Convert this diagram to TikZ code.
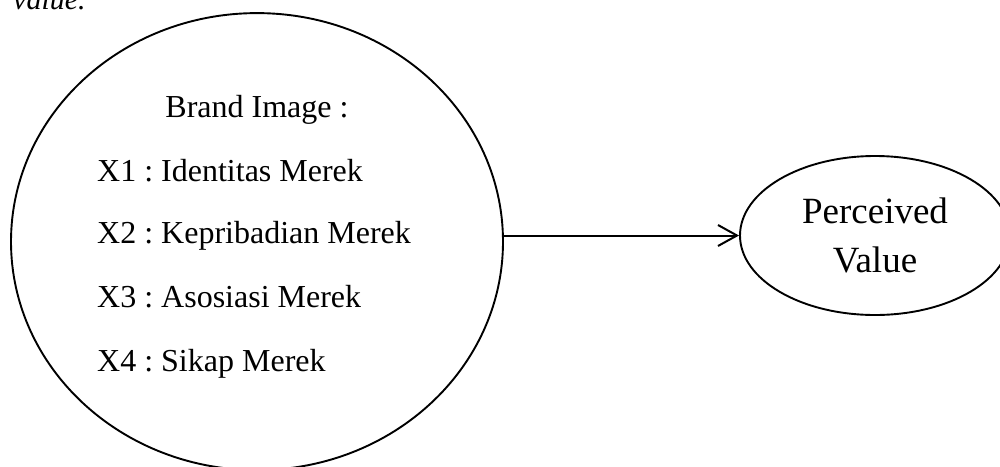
\documentclass[tikz,border=0pt]{standalone}
\usepackage{fontspec}
\setmainfont{Liberation Serif}
\usetikzlibrary{shapes.geometric,arrows.meta}
\frenchspacing
\begin{document}
\begin{tikzpicture}[x=1pt,y=-1pt,
  oval/.style={draw=black,line width=1.9pt,ellipse,inner sep=0pt},
  itemtext/.style={anchor=base west,inner sep=0pt,font=\fontsize{32}{38}\selectfont},
  conn/.style={line width=2pt,-{Straight Barb[length=19pt,width=21pt,line width=2pt]}}]
\useasboundingbox (0,0) rectangle (1000,466);
\node[anchor=base west,inner sep=0pt,font=\fontsize{30}{36}\selectfont\itshape] (cap) at (13,9) {value.};
\node[oval,minimum width=492pt,minimum height=457pt] (big) at (257,241.6) {};
\node[anchor=base,inner sep=0pt,font=\fontsize{32}{38}\selectfont] (t0) at (257,117) {Brand Image :};
\node[itemtext] (t1) at (97,181) {X1 : Identitas Merek};
\node[itemtext] (t2) at (97,243) {X2 : Kepribadian Merek};
\node[itemtext] (t3) at (97,307) {X3 : Asosiasi Merek};
\node[itemtext] (t4) at (97,371) {X4 : Sikap Merek};
\node[oval,minimum width=270pt,minimum height=159pt,align=center,
  font=\fontsize{37}{49}\selectfont] (pv) at (875,235.5) {Perceived\\Value};
\draw[conn] (pv.west -| big.east) -- (pv.west);
\end{tikzpicture}
\end{document}
